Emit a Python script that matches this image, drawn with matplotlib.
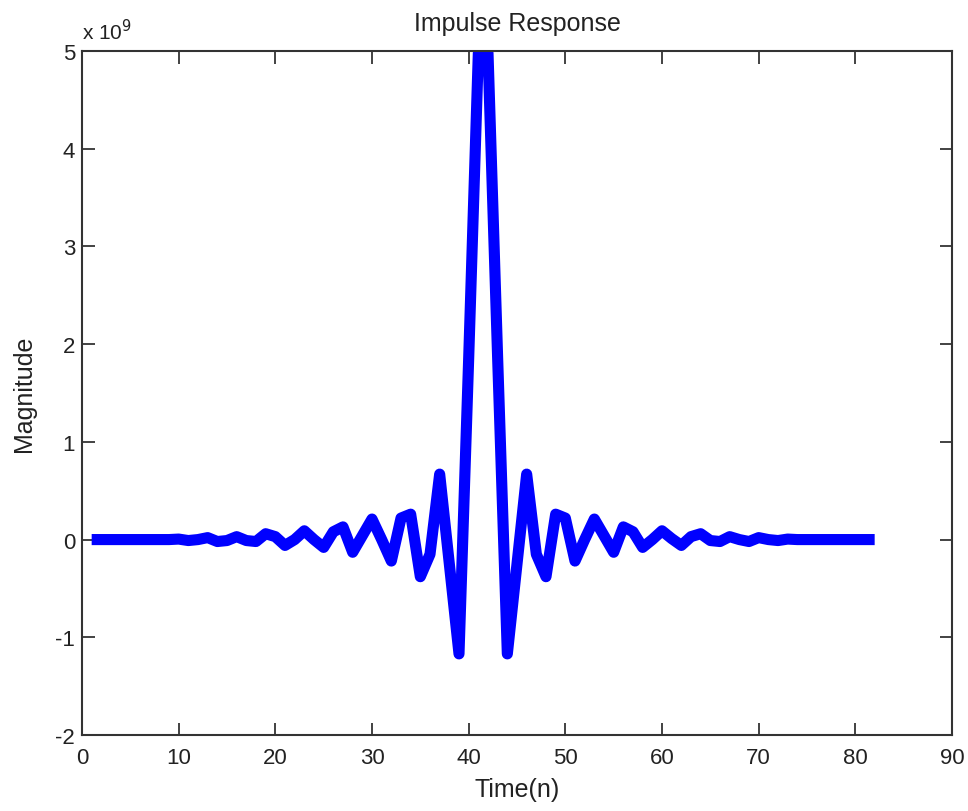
import numpy as np
import matplotlib
matplotlib.use("Agg")
import matplotlib.pyplot as plt
from matplotlib.ticker import FuncFormatter, MultipleLocator

# sample index and impulse response magnitude (in units of 1e9)
n = list(range(1, 83))
h_e9 = [
    0.0, 0.0, 0.0, 0.0, 0.0, 0.0, 0.0, 0.0, 0.0, 0.005,              # n = 1..10
    -0.01, 0.0, 0.02, -0.02, -0.01, 0.03, -0.01, -0.02, 0.06, 0.03,  # 11..20
    -0.06, 0.0, 0.09, 0.0, -0.08, 0.08, 0.13, -0.13, 0.04, 0.21,     # 21..30
    0.0, -0.22, 0.22, 0.26, -0.38, -0.15, 0.67, -0.25, -1.17, 1.85,  # 31..40
    4.98, 4.98,                                                      # 41..42
    1.85, -1.17, -0.25, 0.67, -0.15, -0.38, 0.26, 0.22, -0.22, 0.0,  # 43..52
    0.21, 0.04, -0.13, 0.13, 0.08, -0.08, 0.0, 0.09, 0.01, -0.06,    # 53..62
    0.03, 0.06, -0.01, -0.02, 0.03, 0.0, -0.02, 0.02, 0.0, -0.01,    # 63..72
    0.005, 0.0, 0.0, 0.0, 0.0, 0.0, 0.0, 0.0, 0.0, 0.0,              # 73..82
]
SCALE = 1e9

plt.rcParams["font.family"] = ["Liberation Sans", "DejaVu Sans"]

fig = plt.figure(figsize=(9.68, 8.12), dpi=100)
ax = fig.add_axes([82 / 968, 1 - 736 / 812, (952 - 82) / 968, (736 - 52) / 812])

ax.plot(n, np.array(h_e9) * SCALE, color="#0000ff", linewidth=8,
        solid_joinstyle="round", solid_capstyle="butt")

ax.set_xlim(0, 90)
ax.set_ylim(-2 * SCALE, 5 * SCALE)
ax.xaxis.set_major_locator(MultipleLocator(10))
ax.yaxis.set_major_locator(MultipleLocator(SCALE))
ax.yaxis.set_major_formatter(FuncFormatter(lambda v, p: f"{v / SCALE:g}"))

ax.tick_params(direction="in", length=9, width=1.2, labelsize=16,
               top=True, right=True, pad=5, colors="#222222")
ax.tick_params(axis="x", pad=9)
for s in ax.spines.values():
    s.set_linewidth(1.5)
    s.set_color("#333333")

ax.set_title("Impulse Response", fontsize=18, pad=15, color="#222222")
ax.set_xlabel("Time(n)", fontsize=18, labelpad=6, color="#222222")
ax.set_ylabel("Magnitude", fontsize=18, labelpad=14, color="#222222")
ax.text(0.0, 1.012, "x 10$^{9}$", transform=ax.transAxes, fontsize=15,
        ha="left", va="bottom", color="#222222")

fig.savefig("out.png", dpi=100)
